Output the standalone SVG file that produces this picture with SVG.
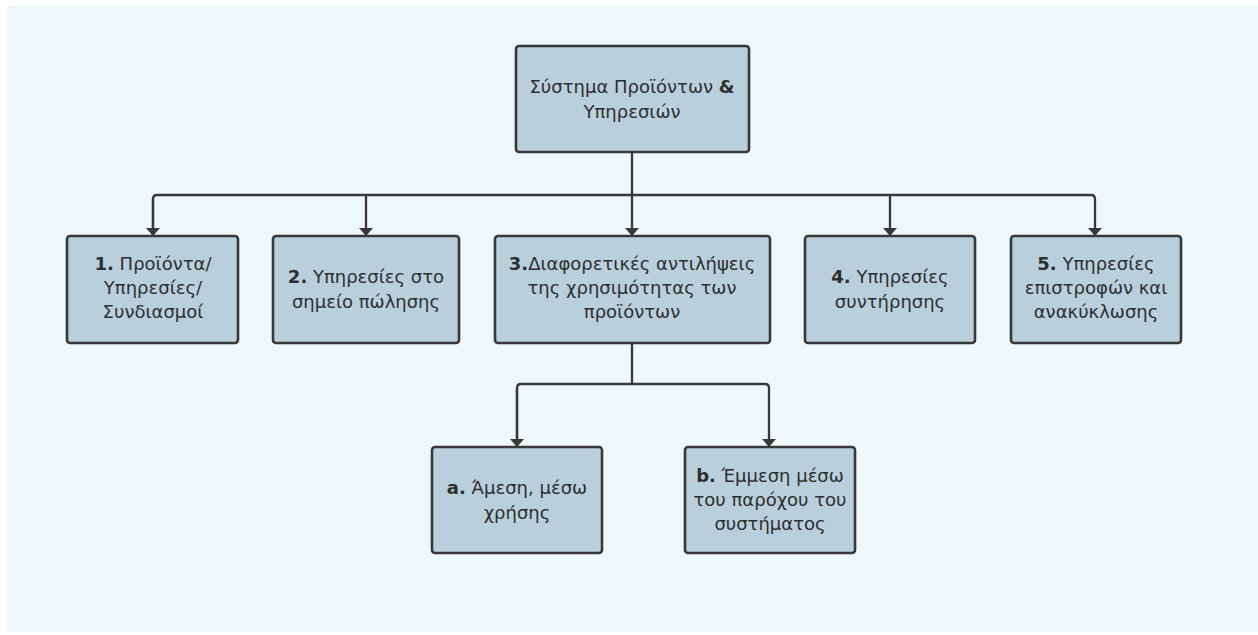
<svg xmlns="http://www.w3.org/2000/svg" width="1258" height="635" viewBox="0 0 1258 635">
  <defs>
    <marker id="arrow" viewBox="0 0 8 14" refX="8" refY="7" markerWidth="8" markerHeight="14" markerUnits="userSpaceOnUse" orient="auto">
      <path d="M0,0 L8,7 L0,14 Z" fill="#383838"/>
    </marker>
  </defs>
  <style>
    .box { fill: #b9d0dc; stroke: #383838; stroke-width: 2.6; }
    .lbl { font-family: "DejaVu Sans", Verdana, sans-serif; font-size: 18px; fill: #2e2e2e; text-anchor: middle; }
    .num { font-weight: bold; }
    .wire { fill: none; stroke: #383838; stroke-width: 2.3; }
  </style>
  <rect x="0" y="0" width="1258" height="635" fill="#ffffff"/>
  <rect x="7" y="6" width="1251" height="626" fill="#eef7f9"/>

  <!-- connectors: trunk from the root, bus, and drops to each child -->
  <g id="connectors">
    <path class="wire" d="M632,152 V195"/>
    <path class="wire" d="M153,236 V199 Q153,195 157,195 H1091 Q1095,195 1095,199 V236" marker-end="url(#arrow)"/>
    <path class="wire" d="M153,199 V236" marker-end="url(#arrow)"/>
    <path class="wire" d="M366,195 V236" marker-end="url(#arrow)"/>
    <path class="wire" d="M632,195 V236" marker-end="url(#arrow)"/>
    <path class="wire" d="M890,195 V236" marker-end="url(#arrow)"/>
    <path class="wire" d="M632,343 V384"/>
    <path class="wire" d="M517,447 V388 Q517,384 521,384 H765 Q769,384 769,388 V447" marker-end="url(#arrow)"/>
    <path class="wire" d="M517,388 V447" marker-end="url(#arrow)"/>
  </g>

  <g id="root">
    <rect class="box" x="516" y="46" width="233" height="106" rx="3"/>
    <text class="lbl" x="632" y="93">Σύστημα Προϊόντων <tspan class="num">&amp;</tspan></text>
    <text class="lbl" x="632" y="118">Υπηρεσιών</text>
  </g>

  <g id="node1">
    <rect class="box" x="67" y="236" width="171" height="107" rx="3"/>
    <text class="lbl" x="153" y="270"><tspan class="num">1.</tspan> Προϊόντα/</text>
    <text class="lbl" x="153" y="294">Υπηρεσίες/</text>
    <text class="lbl" x="153" y="318">Συνδιασμοί</text>
  </g>

  <g id="node2">
    <rect class="box" x="273" y="236" width="186" height="107" rx="3"/>
    <text class="lbl" x="366" y="283"><tspan class="num">2.</tspan> Υπηρεσίες στο</text>
    <text class="lbl" x="366" y="308">σημείο πώλησης</text>
  </g>

  <g id="node3">
    <rect class="box" x="495" y="236" width="275" height="107" rx="3"/>
    <text class="lbl" x="632" y="270"><tspan class="num">3.</tspan>Διαφορετικές αντιλήψεις</text>
    <text class="lbl" x="632" y="294">της χρησιμότητας των</text>
    <text class="lbl" x="632" y="318">προϊόντων</text>
  </g>

  <g id="node4">
    <rect class="box" x="805" y="236" width="170" height="107" rx="3"/>
    <text class="lbl" x="890" y="283"><tspan class="num">4.</tspan> Υπηρεσίες</text>
    <text class="lbl" x="890" y="308">συντήρησης</text>
  </g>

  <g id="node5">
    <rect class="box" x="1011" y="236" width="170" height="107" rx="3"/>
    <text class="lbl" x="1096" y="270"><tspan class="num">5.</tspan> Υπηρεσίες</text>
    <text class="lbl" x="1096" y="294">επιστροφών και</text>
    <text class="lbl" x="1096" y="318">ανακύκλωσης</text>
  </g>

  <g id="nodeA">
    <rect class="box" x="432" y="447" width="170" height="106" rx="3"/>
    <text class="lbl" x="517" y="494"><tspan class="num">a.</tspan> Άμεση, μέσω</text>
    <text class="lbl" x="517" y="519">χρήσης</text>
  </g>

  <g id="nodeB">
    <rect class="box" x="685" y="447" width="170" height="106" rx="3"/>
    <text class="lbl" x="770" y="482"><tspan class="num">b.</tspan> Έμμεση μέσω</text>
    <text class="lbl" x="770" y="506">του παρόχου του</text>
    <text class="lbl" x="770" y="530">συστήματος</text>
  </g>
</svg>
